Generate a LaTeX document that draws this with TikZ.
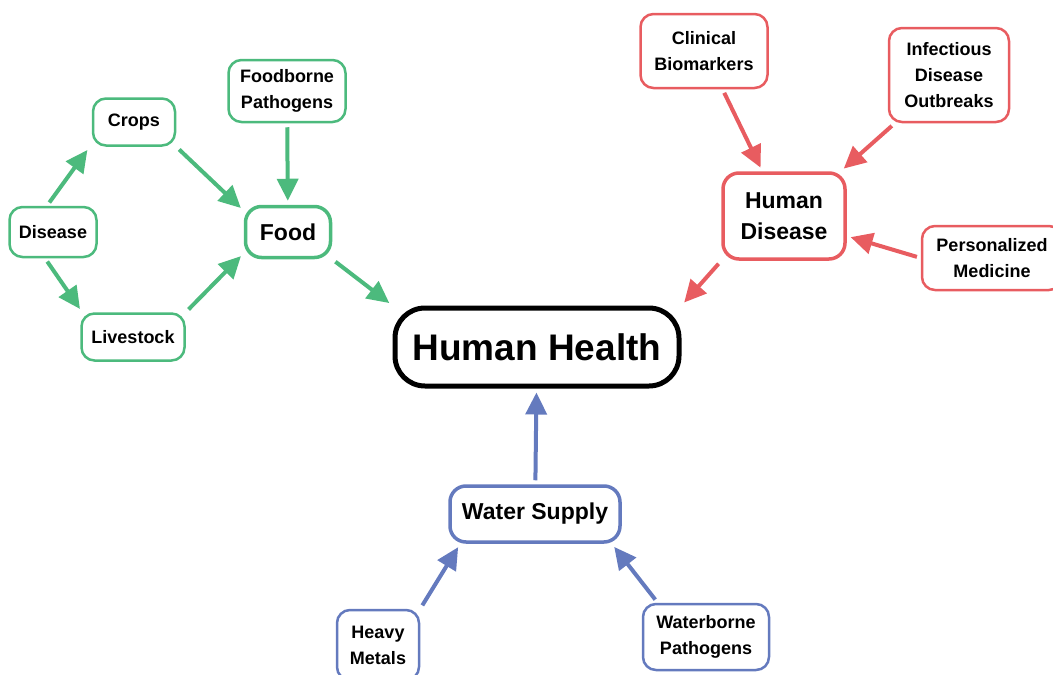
\documentclass[tikz,border=0pt]{standalone}
\usepackage{fontspec}
\setmainfont{Liberation Sans}
\usepackage{xcolor}
\usepackage{tikz}
\usetikzlibrary{arrows.meta}
\definecolor{foodgreen}{RGB}{76,186,125}
\definecolor{diseasered}{RGB}{232,92,96}
\definecolor{waterblue}{RGB}{100,122,190}

\begin{document}
\begin{tikzpicture}[x=1pt,y=-1pt]
    \useasboundingbox (0,0) rectangle (1053,675);
    \tikzstyle{box}=[draw, rounded corners=13pt, fill=white, align=center, inner sep=0pt, font=\fontsize{18}{26}\selectfont\bfseries, line width=2.5pt]
    \tikzstyle{mid}=[box, line width=3.5pt, rounded corners=16pt, font=\fontsize{23}{31}\selectfont\bfseries]
    \tikzstyle{green}=[draw=foodgreen]
    \tikzstyle{red}=[draw=diseasered]
    \tikzstyle{blue}=[draw=waterblue]

    % centre
    \node[box, line width=5pt, rounded corners=30pt, minimum width=284pt, minimum height=78pt, font=\fontsize{37}{44}\selectfont\bfseries] (health) at (537,347) {Human Health};

    % food side
    \node[mid, green, minimum width=85pt, minimum height=51pt] (food) at (288,232) {Food};
    \node[box, green, minimum width=82pt, minimum height=47pt] (crops) at (134,122) {Crops};
    \node[box, green, minimum width=87pt, minimum height=50pt] (disease) at (53,232) {Disease};
    \node[box, green, minimum width=103pt, minimum height=47pt] (livestock) at (133,337) {Livestock};
    \node[box, green, minimum width=117pt, minimum height=62pt] (foodborne) at (287,91) {Foodborne\\Pathogens};

    % disease side
    \node[mid, red, minimum width=122pt, minimum height=86pt] (humdis) at (784,216) {Human\\Disease};
    \node[box, red, minimum width=127pt, minimum height=74pt] (clinical) at (704,51) {Clinical\\Biomarkers};
    \node[box, red, minimum width=120pt, minimum height=94pt] (infect) at (949,75) {Infectious\\Disease\\Outbreaks};
    \node[box, red, minimum width=140pt, minimum height=64pt] (person) at (992,258) {Personalized\\Medicine};

    % water side
    \node[mid, blue, minimum width=170pt, minimum height=56pt] (water) at (535,514) {Water Supply};
    \node[box, blue, minimum width=82pt, minimum height=70pt] (metals) at (378,645) {Heavy\\Metals};
    \node[box, blue, minimum width=126pt, minimum height=66pt] (waterborne) at (706,637) {Waterborne\\Pathogens};

    \tikzstyle{link} = [-{Triangle[length=22pt,width=21pt]}, line width=4pt, shorten <=4pt, shorten >=4pt]

          \draw [link, foodgreen] ([xshift=-6pt]disease.north) -- ([xshift=-2pt]crops.south west);
          \draw [link, foodgreen] ([xshift=-8pt]disease.south) -- ([xshift=2pt]livestock.north west);
          \draw [link, foodgreen] (crops.south east) -- ([yshift=-6pt]food.north west);
          \draw [link, foodgreen] (livestock.north east) -- ([yshift=6pt]food.south west);
          \draw [link, foodgreen] (foodborne) -- (food);
          \draw [link, foodgreen] (food.south east) -- (health.north west);

          \draw [link, diseasered] (clinical) -- (humdis);
          \draw [link, diseasered] (infect) -- ([xshift=-6pt]humdis.north east);
          \draw [link, diseasered] (person.west) -- ([yshift=-20pt]humdis.east);
          \draw [link, diseasered] (humdis.south west) -- (health.north east);

          \draw [link, waterblue] (water) -- (health);
          \draw [link, waterblue] (metals.north east) -- ([xshift=12pt]water.south west);
          \draw [link, waterblue] ([xshift=16pt]waterborne.north west) -- ([xshift=-10pt]water.south east);
  \end{tikzpicture}
\end{document}
